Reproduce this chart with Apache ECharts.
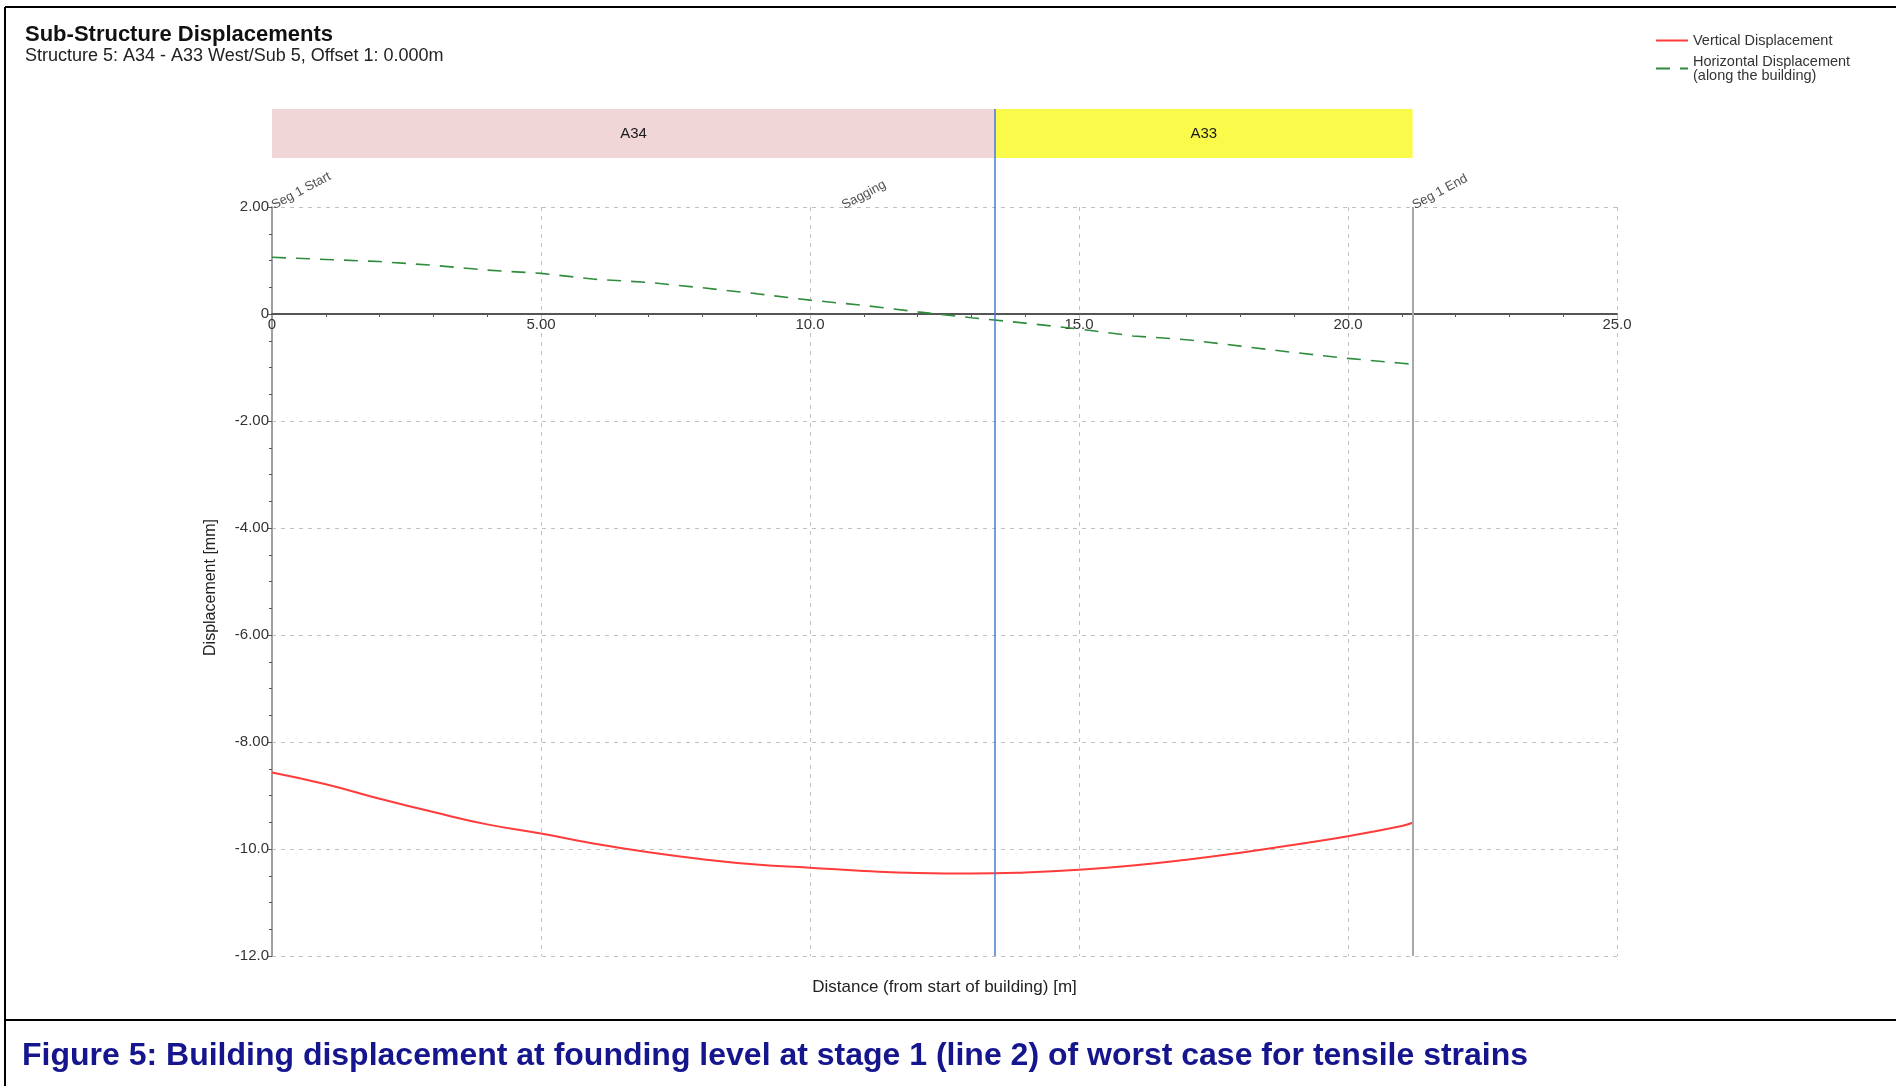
<!DOCTYPE html>
<html>
<head>
<meta charset="utf-8">
<title>Sub-Structure Displacements</title>
<script src="https://cdn.jsdelivr.net/npm/echarts@6/dist/echarts.min.js"></script>
<style>
  html, body { margin: 0; padding: 0; background: #fff; }
  #main { width: 1896px; height: 1086px; }
</style>
</head>
<body>
<div id="main"></div>
<script>
// distance along the building [m]
var distances = [0, 1, 2, 3, 4, 5, 6, 7, 8, 9, 10, 11, 12, 13, 14, 15, 16, 17, 18, 19, 20, 21, 21.2]
// vertical displacement [mm]
var verticalDisp = [-8.57, -8.79, -9.06, -9.31, -9.54, -9.71, -9.90, -10.06, -10.19, -10.29, -10.35, -10.41,
  -10.45, -10.46, -10.44, -10.39, -10.31, -10.20, -10.07, -9.92, -9.76, -9.57, -9.51]
// horizontal displacement along the building [mm]
var horizontalDisp = [1.06, 1.02, 0.98, 0.91, 0.82, 0.76, 0.65, 0.59, 0.49, 0.38, 0.26, 0.16,
  0.04, -0.07, -0.17, -0.28, -0.41, -0.48, -0.60, -0.72, -0.83, -0.92, -0.94]
// building zones (end distance of each)
var zoneNames = ['A34', 'A33']
var zoneEnds = [13.44, 21.2]
// segment markers
var segNames = ['Seg 1 Start', 'Sagging', 'Seg 1 End']
var segPos = [0, 10.6, 21.2]

var font = "'Liberation Sans', Arial, sans-serif"

function fmt3(v) {
  if (v === 0) return '0'
  var s = Math.abs(v).toPrecision(3)
  return (v < 0 ? '-' : '') + s
}

var myChart = echarts.init(document.getElementById('main'))

var zoneStarts = [0].concat(zoneEnds.slice(0, -1))
var zoneSeries = zoneNames.map(function (n, i) {
  return {
    name: n,
    type: 'bar',
    xAxisIndex: 1,
    yAxisIndex: 1,
    stack: 'zones',
    barWidth: '100%',
    silent: true,
    itemStyle: { color: i === 0 ? '#f0d6d6' : '#fafa4a' },
    label: {
      show: true,
      position: 'inside',
      formatter: n,
      color: '#1a1a1a',
      fontFamily: font,
      fontSize: 15
    },
    data: ['-', +(zoneEnds[i] - zoneStarts[i]).toFixed(2)],
    markLine: i === 0 ? {
      silent: true,
      symbol: 'none',
      label: { show: false },
      lineStyle: { color: '#4a7bd0', width: 1.5, type: 'solid' },
      data: [{ xAxis: zoneEnds[0] }]
    } : undefined,
    z: 1
  }
})

var options = {
  animation: false,
  title: {
    text: 'Sub-Structure Displacements',
    subtext: 'Structure 5: A34 - A33 West/Sub 5, Offset 1: 0.000m',
    left: 20,
    top: 19,
    itemGap: 1,
    textStyle: { fontFamily: font, fontSize: 22, fontWeight: 'bold', color: '#111' },
    subtextStyle: { fontFamily: font, fontSize: 18, color: '#222' }
  },
  legend: {
    orient: 'vertical',
    left: 1650,
    top: 28,
    itemWidth: 32,
    itemHeight: 10,
    itemGap: 6,
    itemStyle: { opacity: 0 },
    data: ['Vertical Displacement', 'Horizontal Displacement'],
    formatter: function (n) {
      return n === 'Horizontal Displacement' ? n + '\n(along the building)' : n
    },
    textStyle: { fontFamily: font, fontSize: 14.5, color: '#333', lineHeight: 14 }
  },
  grid: [
    { left: 272, right: 279, top: 207, bottom: 130 },
    { left: 272, right: 279, top: 109, height: 98 },
    { left: 272, right: 279, top: 207, height: 107 }
  ],
  xAxis: [
    {
      type: 'value',
      min: 0,
      max: 25,
      interval: 5,
      name: 'Distance (from start of building) [m]',
      nameLocation: 'middle',
      nameGap: 23,
      nameTextStyle: { fontFamily: font, fontSize: 17, color: '#222' },
      axisLine: { show: false, onZero: false },
      axisTick: { show: false },
      axisLabel: { show: false },
      splitLine: { show: true, lineStyle: { color: '#c0c0c0', type: [4, 5] } }
    },
    { type: 'value', gridIndex: 1, min: 0, max: 25, show: false },
    {
      // x axis drawn along the zero line
      type: 'value',
      gridIndex: 2,
      min: 0,
      max: 25,
      interval: 5,
      position: 'bottom',
      axisLine: { show: true, onZero: false, lineStyle: { color: '#555', width: 2 } },
      axisTick: { show: false },
      minorTick: { show: true, splitNumber: 5, length: 3, lineStyle: { color: '#555' } },
      axisLabel: {
        formatter: fmt3,
        color: '#333',
        fontFamily: font,
        fontSize: 15,
        margin: 3
      },
      splitLine: { show: false }
    }
  ],
  yAxis: [
    {
      type: 'value',
      min: -12,
      max: 2,
      interval: 2,
      name: 'Displacement [mm]',
      nameLocation: 'middle',
      nameGap: 53,
      nameTextStyle: { fontFamily: font, fontSize: 16, color: '#222', padding: [0, 12, 0, 0] },
      axisLine: { show: true, lineStyle: { color: '#a0a0a0', width: 2 } },
      axisTick: { show: true, length: 4, lineStyle: { color: '#555' } },
      minorTick: { show: true, splitNumber: 4, length: 3, lineStyle: { color: '#555' } },
      axisLabel: {
        formatter: fmt3,
        color: '#333',
        fontFamily: font,
        fontSize: 15,
        margin: 3
      },
      splitLine: { show: true, lineStyle: { color: '#c0c0c0', type: [4, 5] } }
    },
    { type: 'category', gridIndex: 1, data: ['gap', 'band'], show: false },
    { type: 'value', gridIndex: 2, min: 0, max: 1, show: false }
  ],
  series: [
    {
      name: 'Vertical Displacement',
      type: 'line',
      symbol: 'none',
      smooth: true,
      lineStyle: { color: '#ff3b3b', width: 2 },
      itemStyle: { color: '#ff3b3b' },
      data: distances.map(function (d, i) { return [d, verticalDisp[i]] }),
      markLine: {
        silent: true,
        symbol: 'none',
        label: { show: false },
        data: [
          { xAxis: zoneEnds[0], lineStyle: { color: '#4a7bd0', width: 1.5, type: 'solid' } },
          { xAxis: segPos[2], lineStyle: { color: '#a8a8a8', width: 2, type: 'solid' } }
        ]
      },
      z: 3
    },
    {
      name: 'Horizontal Displacement',
      type: 'line',
      symbol: 'none',
      lineStyle: { color: '#2f8c3c', width: 1.6, type: [14, 10] },
      itemStyle: { color: '#2f8c3c' },
      data: distances.map(function (d, i) { return [d, horizontalDisp[i]] }),
      z: 3
    },
    {
      name: 'segments',
      type: 'scatter',
      symbolSize: 0,
      silent: true,
      label: {
        show: true,
        position: 'right',
        distance: 0,
        rotate: 28,
        align: 'left',
        verticalAlign: 'bottom',
        offset: [1, 6],
        formatter: '{b}',
        fontFamily: font,
        fontSize: 13,
        color: '#222'
      },
      data: segNames.map(function (n, i) { return { name: n, value: [segPos[i], 2] } }),
      z: 4
    }
  ].concat(zoneSeries),
  graphic: [
    { type: 'line', shape: { x1: 5, y1: 7, x2: 1896, y2: 7 }, style: { stroke: '#000', lineWidth: 2 } },
    { type: 'line', shape: { x1: 5, y1: 7, x2: 5, y2: 1086 }, style: { stroke: '#000', lineWidth: 2 } },
    { type: 'line', shape: { x1: 5, y1: 1020, x2: 1896, y2: 1020 }, style: { stroke: '#000', lineWidth: 2 } },
    {
      type: 'text',
      left: 22,
      top: 1040,
      style: {
        text: 'Figure 5: Building displacement at founding level at stage 1 (line 2) of worst case for tensile strains',
        fontFamily: font,
        fontSize: 32,
        fontWeight: 'bold',
        fill: '#15158e'
      }
    }
  ]
}

myChart.setOption(options)
</script>
</body>
</html>
